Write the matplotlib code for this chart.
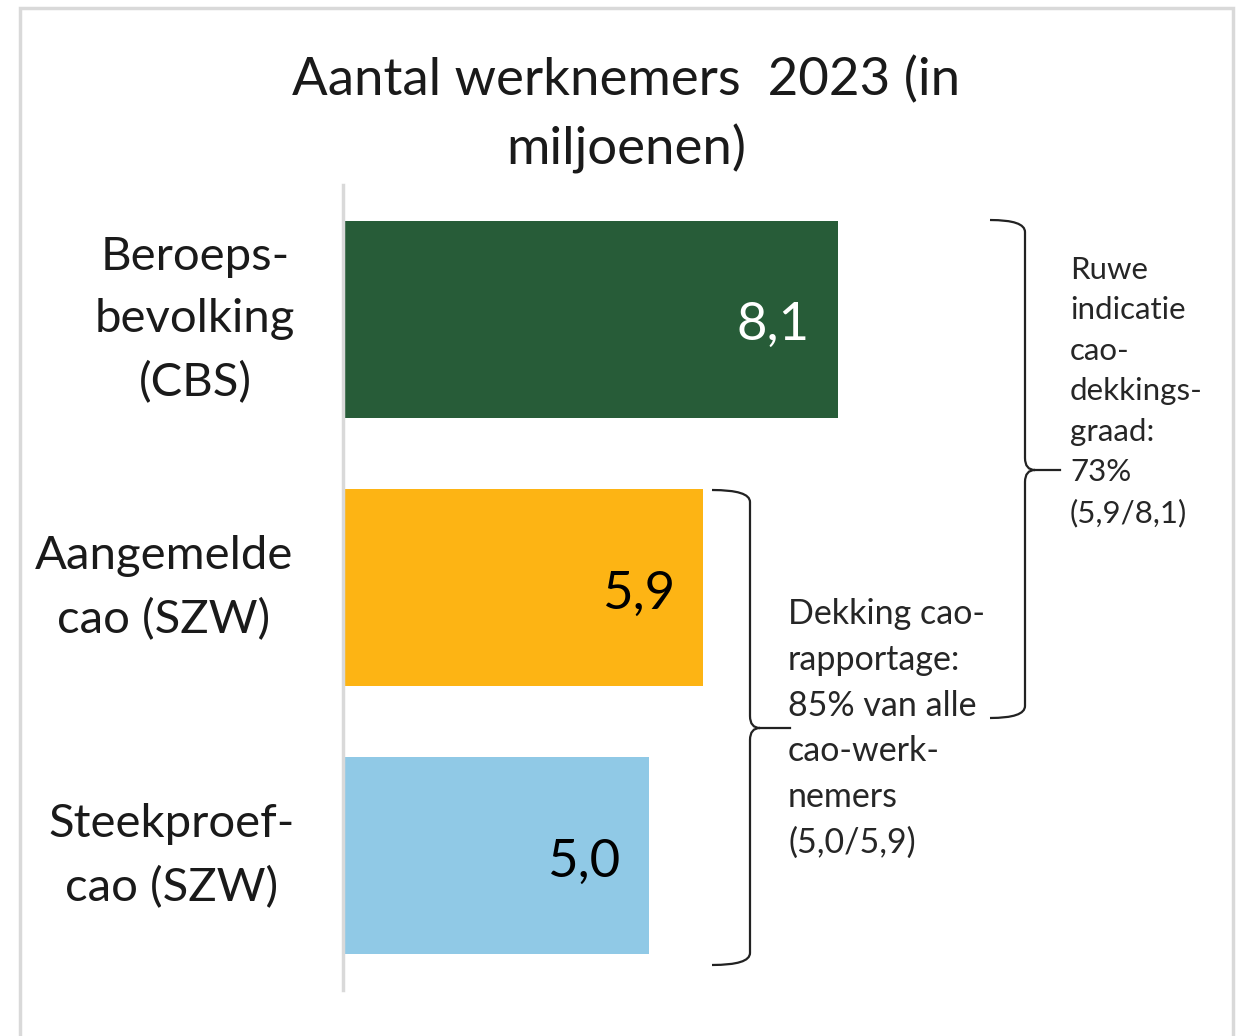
# horizontal bar chart: aantal werknemers 2023
import matplotlib.pyplot as plt
from matplotlib.patches import Rectangle, PathPatch
from matplotlib.path import Path

categories = ['Beroeps-\nbevolking\n(CBS)', 'Aangemelde\ncao (SZW)', 'Steekproef-\ncao (SZW)']
values = [8.1, 5.9, 5.0]
value_labels = ['8,1', '5,9', '5,0']
colors = ['#275C38', '#FDB414', '#90C9E6']
label_colors = ['white', 'black', 'black']
title = 'Aantal werknemers  2023 (in\nmiljoenen)'
note_total = 'Ruwe\nindicatie\ncao-\ndekkings-\ngraad:\n73%\n(5,9/8,1)'
note_sample = 'Dekking cao-\nrapportage:\n85% van alle\ncao-werk-\nnemers\n(5,0/5,9)'

W, H = 1245, 1036
PX_PER_UNIT = 61.1
plt.rcParams['font.family'] = ['Lato', 'DejaVu Sans']
fig = plt.figure(figsize=(W / 100, H / 100), dpi=100)

def px(x, y):
    # pixel position (from top-left) to figure fraction
    return x / W, 1 - y / H

# outer frame (bottom edge falls off the picture)
fig.patches.append(Rectangle(px(20, 1060), 1213 / W, 1052 / H, transform=fig.transFigure,
                             fill=False, edgecolor='#d9d9d9', linewidth=2.5))

ax = fig.add_axes([343 / W, 1 - 990 / H, 890 / W, 805 / H])
ypos = range(len(values))
ax.barh(ypos, values, height=0.735, color=colors)
ax.set_xlim(0, 890 / PX_PER_UNIT)
ax.set_ylim(2.5, -0.5)
ax.set_xticks([])
ax.set_yticks([])
for s in ['top', 'right', 'bottom']:
    ax.spines[s].set_visible(False)
ax.spines['left'].set_color('#d9d9d9')
ax.spines['left'].set_linewidth(2.5)

for i, (v, lab) in enumerate(zip(values, value_labels)):
    ax.text(v - 28 / PX_PER_UNIT, i + 0.025, lab, ha='right', va='center', fontsize=38,
            color=label_colors[i])

cat_x = [195, 164, 172]
for i, cat in enumerate(categories):
    fig.text(cat_x[i] / W, 1 - (320 + 268 * i) / H, cat, ha='center', va='center',
             multialignment='center', fontsize=34, linespacing=1.6, color='#1a1a1a')

fig.text(626 / W, 1 - 115 / H, title, ha='center', va='center', fontsize=38,
         linespacing=1.47, color='#1a1a1a')

def brace(xa, xv, xt, ytop, ymid, ybot):
    r = 12
    verts = [px(xa, ytop), px(xv, ytop), px(xv, ytop + r),
             px(xv, ymid - r), px(xv, ymid), px(xv + 10, ymid),
             px(xv, ymid), px(xv, ymid + r),
             px(xv, ybot - r), px(xv, ybot), px(xa, ybot)]
    codes = [Path.MOVETO, Path.CURVE3, Path.CURVE3,
             Path.LINETO, Path.CURVE3, Path.CURVE3,
             Path.CURVE3, Path.CURVE3,
             Path.LINETO, Path.CURVE3, Path.CURVE3]
    fig.patches.append(PathPatch(Path(verts, codes), transform=fig.transFigure,
                                 fill=False, edgecolor='#222222', linewidth=1.6))
    fig.lines.append(plt.Line2D([(xv + 10) / W, xt / W], [1 - ymid / H, 1 - ymid / H],
                                transform=fig.transFigure, color='#222222', linewidth=1.6))

brace(990, 1025, 1060, 220, 470, 718)
brace(712, 750, 790, 490, 728, 965)

fig.text(1070 / W, 1 - 256 / H, note_total, ha='left', va='top', fontsize=22.5,
         linespacing=1.54, color='#262626')
fig.text(788 / W, 1 - 598 / H, note_sample, ha='left', va='top', fontsize=24.5,
         linespacing=1.53, color='#262626')

fig.savefig('out.png', dpi=100, facecolor='white')
